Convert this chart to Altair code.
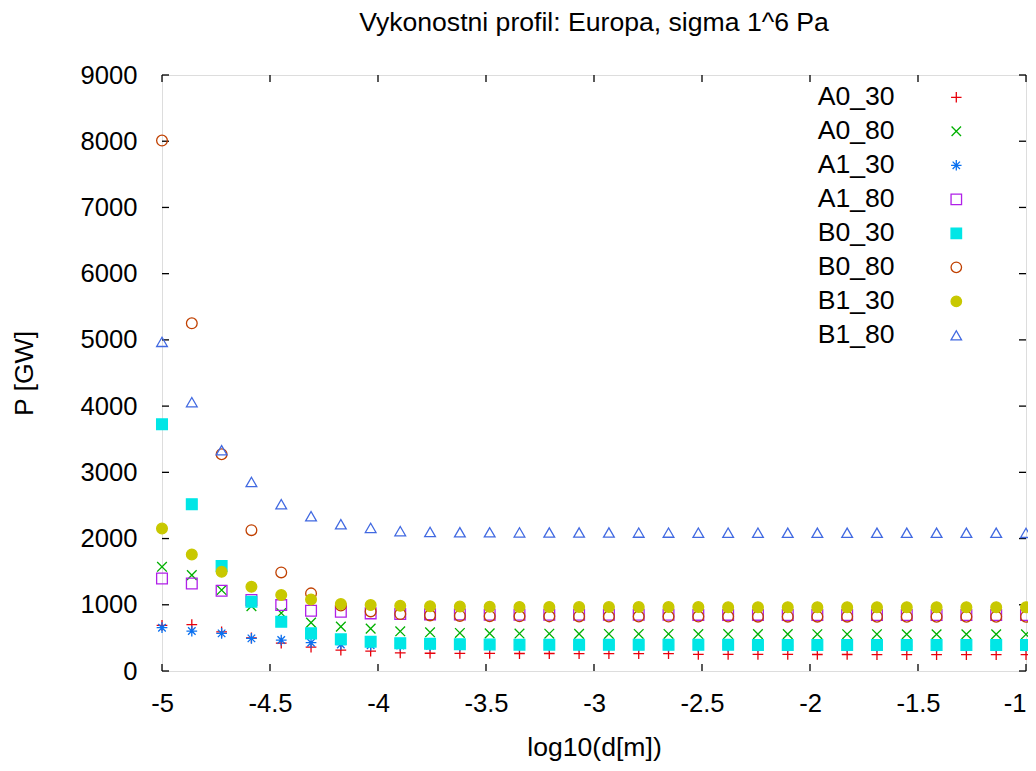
import altair as alt
import pandas as pd

# ---- data ----
series = ["A0_30", "A0_80", "A1_30", "A1_80", "B0_30", "B0_80", "B1_30", "B1_80"]

log_d = [-5.000, -4.862, -4.724, -4.586, -4.448, -4.310, -4.172, -4.034, -3.897, -3.759,
         -3.621, -3.483, -3.345, -3.207, -3.069, -2.931, -2.793, -2.655, -2.517, -2.379,
         -2.241, -2.103, -1.966, -1.828, -1.690, -1.552, -1.414, -1.276, -1.138, -1.000]

A0_30 = [690, 700, 590, 500, 420, 360, 315, 300, 275, 268, 265, 265, 264, 264, 263, 263,
         262, 262, 252, 250, 250, 250, 249, 249, 248, 248, 248, 247, 247, 246]
A0_80 = [1574, 1448, 1222, 980, 875, 730, 670, 640, 600, 585, 575, 568, 565, 563, 561, 560,
         560, 559, 558, 558, 557, 557, 556, 556, 556, 555, 555, 555, 555, 554]
A1_30 = [654, 603, 568, 493, 467, 427, 400, 390, 385, 382, 380, 380, 379, 379, 378, 378,
         378, 377, 377, 377, 377, 376, 376, 376, 376, 376, 375, 375, 375, 375]
A1_80 = [1398, 1322, 1211, 1071, 995, 910, 895, 870, 860, 855, 852, 850, 850, 849, 849, 848,
         848, 848, 847, 847, 847, 846, 846, 846, 846, 845, 845, 845, 845, 845]
B0_30 = [3725, 2519, 1584, 1045, 744, 568, 478, 442, 420, 410, 404, 400, 398, 397, 396, 396,
         395, 395, 395, 395, 394, 394, 394, 394, 394, 393, 393, 393, 393, 393]
B0_80 = [8010, 5250, 3273, 2127, 1489, 1172, 990, 900, 860, 840, 832, 828, 826, 825, 824, 823,
         823, 822, 822, 822, 821, 821, 821, 821, 820, 820, 820, 820, 820, 820]
B1_30 = [2152, 1760, 1498, 1272, 1146, 1081, 1010, 995, 985, 978, 973, 970, 968, 967, 966, 966,
         965, 965, 965, 964, 964, 964, 964, 964, 963, 963, 963, 963, 963, 963]
B1_80 = [4970, 4060, 3333, 2855, 2519, 2338, 2217, 2161, 2112, 2100, 2096, 2094, 2093, 2092, 2091, 2091,
         2090, 2090, 2089, 2089, 2089, 2088, 2088, 2088, 2088, 2087, 2087, 2087, 2087, 2086]

values = [A0_30, A0_80, A1_30, A1_80, B0_30, B0_80, B1_30, B1_80]

y_ticks = [0, 1000, 2000, 3000, 4000, 5000, 6000, 7000, 8000, 9000]
x_ticks = [-5, -4.5, -4, -3.5, -3, -2.5, -2, -1.5, -1]

# ---- styles ----
colors = ["#e8000b", "#00b000", "#0a70f0", "#b020e8", "#00e6e6", "#c04000", "#c8c800", "#4169e1"]
fills = ["transparent", "transparent", "transparent", "transparent",
         "#00e6e6", "transparent", "#c8c800", "transparent"]
PLUS = "M-1,0L1,0M0,-1L0,1"
XMARK = "M-0.9,-0.9L0.9,0.9M-0.9,0.9L0.9,-0.9"
STAR = "M-1,0L1,0M0,-1L0,1M-0.7,-0.7L0.7,0.7M-0.7,0.7L0.7,-0.7"
shapes = [PLUS, XMARK, STAR, "square", "square", "circle", "circle", "triangle-up"]

W, H = 864, 596
FONT = "Liberation Sans"

rows = []
for name, vals in zip(series, values):
    for xv, yv in zip(log_d, vals):
        rows.append({"x": xv, "y": yv, "series": name})
df = pd.DataFrame(rows)

X = alt.X("x:Q",
          scale=alt.Scale(domain=[-5, -1], nice=False, zero=False),
          axis=alt.Axis(values=x_ticks, labelExpr="'' + datum.value", title="log10(d[m])",
                        labelAlign={"expr": "datum.value == -1 ? 'right' : 'center'"},
                        domain=False, ticks=False, grid=False, labelPadding=20,
                        labelFontSize=25.6, titleFontSize=26.6, titleFontWeight="normal",
                        titleX=W / 2, titleY=76, titleBaseline="middle", titleAlign="center"))
Y = alt.Y("y:Q",
          scale=alt.Scale(domain=[0, 9000], nice=False),
          axis=alt.Axis(values=y_ticks, format="d", title="P [GW]",
                        domain=False, ticks=False, grid=False, labelPadding=25,
                        labelFontSize=25.6, titleFontSize=26.6, titleFontWeight="normal",
                        titleAngle=-90, titleX=-138, titleY=H / 2,
                        titleBaseline="middle", titleAlign="center"))

points = alt.Chart(df).mark_point(size=115, strokeWidth=1.3, opacity=1).encode(
    x=X, y=Y,
    shape=alt.Shape("series:N", scale=alt.Scale(domain=series, range=shapes), title=None),
    stroke=alt.Stroke("series:N", scale=alt.Scale(domain=series, range=colors), title=None),
    fill=alt.Fill("series:N", scale=alt.Scale(domain=series, range=fills), title=None,
                  legend=alt.Legend(orient="none", legendX=781, legendY=9, title=None,
                                    padding=0, labelAlign="right",
                                    labelOffset={"expr": "-75"},
                                    labelFontSize=26.6, labelFont=FONT, labelColor="#000",
                                    labelLimit=200, rowPadding=7, symbolSize=110,
                                    symbolStrokeWidth=1.3)),
)

ydf = pd.DataFrame({"y": y_ticks})
xdf = pd.DataFrame({"x": x_ticks})
tick_style = dict(color="#000", strokeWidth=1.3)
yt_left = alt.Chart(ydf).mark_rule(**tick_style).encode(y=Y, x=alt.value(0), x2=alt.value(7))
yt_right = alt.Chart(ydf).mark_rule(**tick_style).encode(y=Y, x=alt.value(W - 7), x2=alt.value(W))
xt_bot = alt.Chart(xdf).mark_rule(**tick_style).encode(x=X, y=alt.value(H), y2=alt.value(H - 7))
xt_top = alt.Chart(xdf).mark_rule(**tick_style).encode(x=X, y=alt.value(0), y2=alt.value(7))

chart = alt.layer(yt_left, yt_right, xt_bot, xt_top, points).properties(
    width=W, height=H,
    title=alt.Title("Vykonostni profil: Europa, sigma 1^6 Pa", fontSize=26.6,
                    fontWeight="normal", font=FONT, color="#000", offset=26, anchor="middle"),
    autosize=alt.AutoSizeParams(type="none"),
    padding={"left": 154, "top": 67, "right": 2, "bottom": 92},
).configure_view(stroke="#000", strokeWidth=1.3).configure_axis(
    labelFont=FONT, titleFont=FONT, labelColor="#000", titleColor="#000"
).configure(background="white")

chart.save("out.html", embed_options={"renderer": "svg", "actions": False})
